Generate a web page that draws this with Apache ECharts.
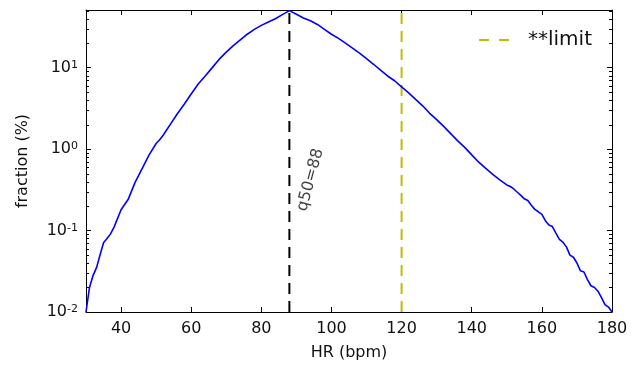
<!DOCTYPE html>
<html>
<head>
<meta charset="utf-8">
<script src="https://cdn.jsdelivr.net/npm/echarts@6/dist/echarts.min.js"></script>
<style>html,body{margin:0;padding:0;background:#fff}#c{width:637px;height:366px}</style>
</head>
<body>
<div id="c"></div>
<script>
// ---- data ----
const hrBpm = [30,31,32,33,34,35,36,37,38,40,42,44,46,48,50,51,52,54,56,58,60,62,64,66,68,70,72,74,76,78,80,82,84,86,88,
  90,92,94,96,98,100,102,104,106,108,110,112,114,116,118,120,122,124,126,128,130,132,134,136,138,140,142,144,146,148,
  149,150,151,152,153,154,155,156,157,158,159,160,161,162,163,164,165,166,167,168,169,170,171,172,173,174,175,176,177,178,179,180];
const fractionPct = [0.010,0.020,0.028,0.035,0.050,0.071,0.080,0.091,0.11,0.18,0.24,0.39,0.575,0.85,1.17,1.30,1.48,2.0,2.7,3.55,4.75,6.3,7.9,10.0,12.7,15.5,18.6,21.9,25.7,29.5,33,36.3,39.8,44.7,50.1,
  45.2,40.7,37.6,33.9,29.5,25.7,22.9,20.0,17.4,15.1,12.9,11.0,9.3,7.9,6.9,5.8,4.9,4.07,3.4,2.75,2.3,1.9,1.55,1.26,1.05,0.85,0.69,0.58,0.49,0.42,
  0.39,0.363,0.347,0.324,0.295,0.27,0.245,0.234,0.204,0.182,0.17,0.158,0.132,0.117,0.112,0.093,0.078,0.072,0.063,0.050,0.047,0.040,0.032,0.031,0.025,0.021,0.020,0.018,0.015,0.0123,0.0115,0.010];
const q50 = 88;
const limitHr = 120;
const xRange = [30, 180];
const yRange = [0.01, 51];
const q50LabelAt = [94, 0.42];
const limitName = '**limit';
const q50Text = 'q50=88';
const xTitle = 'HR (bpm)';
const yTitle = 'fraction (%)';

// minor log ticks 2..9 x 10^k
const minorTicks = [];
for (let k = -2; k <= 1; k++) for (let m = 2; m <= 9; m++) {
  const v = m * Math.pow(10, k);
  if (v < yRange[1]) minorTicks.push(v);
}

const FONT = 'DejaVu Sans';
const TXT = '#111';

function logLabel(v) {
  const e = Math.round(Math.log10(v));
  if (Math.abs(v - Math.pow(10, e)) / v > 1e-6) return '';
  return '{b|10}{s|' + e + '}';
}
const richLbl = {
  b: { fontSize: 16, lineHeight: 16, fontFamily: FONT, color: TXT },
  s: { fontSize: 11, lineHeight: 11, fontFamily: FONT, color: TXT, verticalAlign: 'top' }
};

const chart = echarts.init(document.getElementById('c'), null, { renderer: 'canvas' });
const axisLine = { show: true, onZero: false, lineStyle: { color: '#000', width: 1 } };

chart.setOption({
  animation: false,
  backgroundColor: '#fff',
  grid: { left: 86, right: 25, top: 10, bottom: 54, containLabel: false },
  legend: {
    data: [{ name: limitName, icon: 'path://M0,0h10v2h-10z M20,0h10v2h-10z' }],
    left: 474, top: 25,
    itemWidth: 30, itemHeight: 2,
    textStyle: { fontFamily: FONT, fontSize: 20, color: TXT, padding: [0, 0, 0, 14] },
    selectedMode: false
  },
  xAxis: [
    {
      type: 'value', min: xRange[0], max: xRange[1], splitNumber: 7,
      axisLine, splitLine: { show: false },
      axisTick: { inside: true, length: 5, lineStyle: { color: '#000' } },
      axisLabel: { margin: 9, fontFamily: FONT, fontSize: 16, color: TXT,
        formatter: v => (v % 20 === 0 ? String(v) : '') },
      name: xTitle, nameLocation: 'middle', nameGap: 33,
      nameTextStyle: { fontFamily: FONT, fontSize: 16, color: TXT }
    },
    {
      type: 'value', position: 'top', min: xRange[0], max: xRange[1], splitNumber: 7,
      axisLine, splitLine: { show: false },
      axisTick: { inside: true, length: 5, lineStyle: { color: '#000' } },
      axisLabel: { show: false }
    }
  ],
  yAxis: [
    {
      type: 'log', logBase: 10, min: yRange[0], max: yRange[1],
      axisLine, splitLine: { show: false },
      axisTick: { inside: true, length: 5, lineStyle: { color: '#000' } },
      axisLabel: { margin: 8, formatter: logLabel, rich: richLbl, showMaxLabel: false },
      name: yTitle, nameLocation: 'middle', nameGap: 55,
      nameTextStyle: { fontFamily: FONT, fontSize: 16, color: TXT }
    },
    {
      type: 'log', logBase: 10, position: 'right', min: yRange[0], max: yRange[1],
      axisLine, splitLine: { show: false },
      axisTick: { inside: true, length: 5, lineStyle: { color: '#000' } },
      axisLabel: { show: false }
    }
  ],
  series: [
    {
      type: 'custom', name: 'minor', silent: true, clip: false, z: 5,
      data: minorTicks.map(v => [v]),
      encode: { y: 0 },
      renderItem: (params, api) => {
        const v = api.value(0);
        const pl = api.coord([xRange[0], v]);
        const pr = api.coord([xRange[1], v]);
        const st = { stroke: '#000', lineWidth: 1 };
        return { type: 'group', children: [
          { type: 'line', shape: { x1: pl[0], y1: Math.round(pl[1]) + 0.5, x2: pl[0] + 3, y2: Math.round(pl[1]) + 0.5 }, style: st },
          { type: 'line', shape: { x1: pr[0], y1: Math.round(pr[1]) + 0.5, x2: pr[0] - 3, y2: Math.round(pr[1]) + 0.5 }, style: st }
        ] };
      }
    },
    {
      type: 'line', name: 'fraction', data: hrBpm.map((h, i) => [h, fractionPct[i]]),
      showSymbol: false, symbol: 'none',
      lineStyle: { color: '#0000ff', width: 1.6 }, z: 3
    },
    {
      type: 'line', name: 'q50', data: [[q50, yRange[0]], [q50, yRange[1]]],
      symbol: 'none', lineStyle: { color: '#000', width: 2, type: [11, 7] }, z: 2
    },
    {
      type: 'line', name: limitName, data: [[limitHr, yRange[0]], [limitHr, yRange[1]]],
      symbol: 'none', color: '#bfbf00', lineStyle: { color: '#bfbf00', width: 2, type: [11, 7] }, z: 2
    },
    {
      type: 'scatter', name: 'q50label', data: [q50LabelAt], symbolSize: 0, silent: true,
      label: { show: true, position: 'inside', formatter: q50Text, rotate: 75,
        fontFamily: FONT, fontSize: 16, color: TXT }
    }
  ]
});
</script>
</body>
</html>
